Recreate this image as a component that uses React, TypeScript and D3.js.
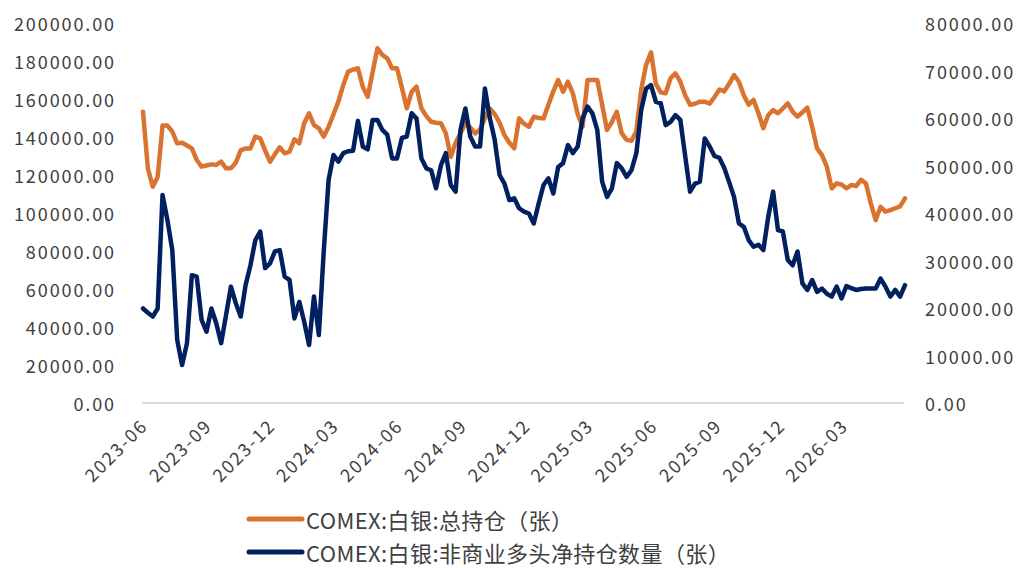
import React from "react";
import * as d3 from "d3";

// Weekly report dates start here (one value per week)
const START_DATE = new Date(2023, 4, 30);

const totalOpenInterest = [
  153300, 123500, 113800, 119000, 146000, 146000, 142800, 136700, 137000, 135500,
  134000, 127900, 124400, 125000, 125600, 125300, 127000, 123500, 123500, 126500,
  133000, 134000, 134000, 140200, 139300, 133000, 127000, 131000, 134600, 131400,
  132300, 138800, 136700, 147200, 152500, 146300, 144600, 140200, 145400, 152000,
  158600, 167400, 174400, 175500, 176200, 166500, 161200, 174000, 186700, 183200,
  181400, 176200, 176200, 166000, 155100, 163800, 166500, 155100, 151000, 148000,
  147500, 147200, 141900, 129600, 137000, 141900, 147200, 145000, 141900, 144000,
  150000, 155000, 152000, 147500, 141000, 137000, 134000, 149800, 147000, 145400,
  150700, 150000, 149800, 157000, 164000, 170000, 163800, 169100, 163000, 152000,
  145400, 170000, 170000, 170000, 157000, 143700, 148000, 153300, 142000, 138500,
  138000, 143000, 165000, 178000, 184500, 168000, 163500, 163000, 170900, 173500,
  169100, 162000, 157000, 157500, 158600, 158600, 157500, 161000, 165000, 164000,
  168000, 172600, 169100, 162000, 157000, 159500, 152500, 144600, 151600, 154200,
  152500, 155000, 157700, 153300, 150700, 153000, 155500, 145400, 134000, 130500,
  124400, 113000, 115600, 115000, 113000, 114700, 114200, 117400, 115600, 105100,
  96300, 103300, 100700, 101500, 102500, 103500, 107700,
];

const netLongNonCommercial = [
  19900, 19000, 18200, 19900, 43800, 38500, 32200, 13300, 8000, 12600,
  26900, 26600, 17500, 15000, 19900, 16800, 12600, 18500, 24500, 21000,
  18200, 24800, 29000, 34300, 36100, 28400, 29400, 31900, 32200, 26600,
  25900, 17800, 21300, 17100, 12200, 22400, 14300, 31900, 47000, 52200,
  50800, 52600, 53000, 53100, 59400, 54000, 53400, 59600, 59600, 57500,
  56500, 51500, 51500, 55800, 56100, 61000, 59900, 51500, 49400, 49000,
  45200, 50100, 52600, 45900, 44500, 57500, 62000, 56100, 54000, 54000,
  66200, 60000, 55400, 48000, 46200, 42700, 43100, 41000, 40300, 39900,
  37800, 42000, 45900, 47300, 44100, 49700, 50500, 54300, 52600, 54000,
  59900, 62400, 61000, 57500, 46600, 43400, 45200, 50500, 49400, 47600,
  49000, 52600, 61700, 66200, 66900, 63400, 63100, 58500, 59200, 60600,
  59600, 52000, 44500, 46200, 46600, 55700, 54000, 52000, 51600, 49500,
  46500, 43400, 37800, 37100, 34300, 32900, 33300, 32200, 39200, 44500,
  36400, 36100, 30100, 29000, 31900, 25200, 23800, 25900, 23400, 24100,
  23000, 22400, 24500, 22000, 24600, 24200, 23800, 24000, 24100, 24100,
  24100, 26200, 24500, 22400, 23800, 22400, 24800,
];

const xTickLabels = [
  "2023-06", "2023-09", "2023-12", "2024-03", "2024-06", "2024-09",
  "2024-12", "2025-03", "2025-06", "2025-09", "2025-12", "2026-03",
];
const leftTicks = [0, 20000, 40000, 60000, 80000, 100000, 120000, 140000, 160000, 180000, 200000];
const rightTicks = [0, 10000, 20000, 30000, 40000, 50000, 60000, 70000, 80000];

const legendLabels = ["COMEX:白银:总持仓（张）", "COMEX:白银:非商业多头净持仓数量（张）"];

const ORANGE = "#D9732F";
const NAVY = "#002060";
const TEXT = "#404040";
const FONT = "'Noto Sans CJK SC', 'Noto Sans', sans-serif";

export default function App() {
  const W = 1019;
  const H = 568;
  const left = 143;
  const right = 905;
  const top = 23;
  const bottom = 403;

  const dates = totalOpenInterest.map((_, i) => d3.timeDay.offset(START_DATE, 7 * i));
  const x = d3
    .scaleTime()
    .domain([dates[0], dates[dates.length - 1]])
    .range([left, right]);
  const yL = d3.scaleLinear().domain([0, 200000]).range([bottom, top]);
  const yR = d3.scaleLinear().domain([0, 80000]).range([bottom, top]);

  const lineL = d3
    .line<number>()
    .x((_, i) => x(dates[i]))
    .y((d) => yL(d))
    .curve(d3.curveLinear);
  const lineR = d3
    .line<number>()
    .x((_, i) => x(dates[i]))
    .y((d) => yR(d))
    .curve(d3.curveLinear);

  const parse = d3.timeParse("%Y-%m");
  const fmt = d3.format(".2f");

  return (
    <svg
      width={W}
      height={H}
      style={{ position: "absolute", left: 0, top: 0, background: "#fff" }}
      fontFamily={FONT}
    >
      <rect x={0} y={0} width={W} height={H} fill="#fff" />
      {/* left axis labels */}
      {leftTicks.map((t) => (
        <text
          key={"l" + t}
          x={116}
          y={yL(t)}
          textAnchor="end"
          dominantBaseline="central"
          fontSize={18}
          letterSpacing={1.9}
          fill={TEXT}
        >
          {fmt(t)}
        </text>
      ))}
      {/* right axis labels */}
      {rightTicks.map((t) => (
        <text
          key={"r" + t}
          x={925}
          y={yR(t)}
          textAnchor="start"
          dominantBaseline="central"
          fontSize={18}
          letterSpacing={1.9}
          fill={TEXT}
        >
          {fmt(t)}
        </text>
      ))}
      {/* baseline */}
      <line x1={left - 1} x2={right - 1} y1={bottom} y2={bottom} stroke="#D9D9D9" strokeWidth={2} />
      {/* x labels */}
      {xTickLabels.map((lab) => {
        const px = x(parse(lab) as Date);
        return (
          <text
            key={lab}
            transform={`translate(${px + 4.5},${bottom + 24}) rotate(-45)`}
            textAnchor="end"
            fontSize={18}
            letterSpacing={1.9}
            fill={TEXT}
          >
            {lab}
          </text>
        );
      })}
      {/* lines */}
      <path
        d={lineL(totalOpenInterest) || ""}
        fill="none"
        stroke={ORANGE}
        strokeWidth={4.5}
        strokeLinejoin="round"
        strokeLinecap="round"
      />
      <path
        d={lineR(netLongNonCommercial) || ""}
        fill="none"
        stroke={NAVY}
        strokeWidth={4.5}
        strokeLinejoin="round"
        strokeLinecap="round"
      />
      {/* legend */}
      {legendLabels.map((lab, i) => {
        const ly = 519 + i * 33;
        return (
          <g key={lab}>
            <line
              x1={249}
              x2={302}
              y1={ly}
              y2={ly}
              stroke={i === 0 ? ORANGE : NAVY}
              strokeWidth={5}
              strokeLinecap="round"
            />
            <text x={306} y={ly} dominantBaseline="central" fontSize={22} letterSpacing={0.4} fill={TEXT}>
              {lab}
            </text>
          </g>
        );
      })}
    </svg>
  );
}
